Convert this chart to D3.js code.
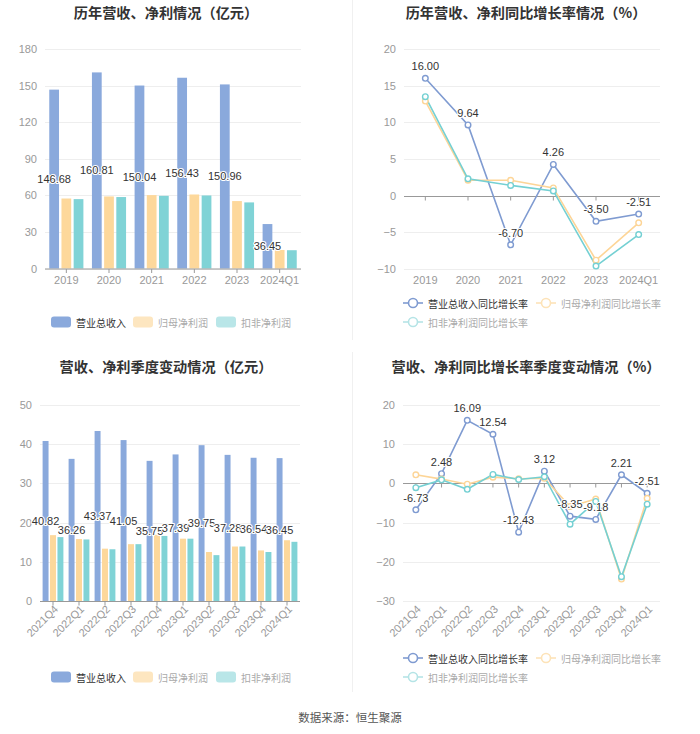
<!DOCTYPE html>
<html><head><meta charset="utf-8">
<script src="https://cdn.jsdelivr.net/npm/d3@7"></script>
<style>
html,body{margin:0;padding:0;background:#fff;}
svg{display:block;font-family:"Liberation Sans","Noto Sans CJK SC",sans-serif;}
</style></head>
<body><svg id="c" width="700" height="734"></svg>
<script>
// ---- data ----
const annualCats = ['2019','2020','2021','2022','2023','2024Q1'];
const annualRevenue = [146.68,160.81,150.04,156.43,150.96,36.45];
const annualNetProfit = [57.4,59.1,60.2,60.7,55.3,15.2];
const annualDeductedProfit = [56.9,58.6,59.6,59.9,54.2,15.0];

const annualRevenueGrowth = [16.00,9.64,-6.70,4.26,-3.50,-2.51];
const annualNetGrowth = [12.9,2.1,2.1,1.05,-8.8,-3.7];
const annualDeductedGrowth = [13.5,2.3,1.4,0.64,-9.6,-5.3];

const quarterCats = ['2021Q4','2022Q1','2022Q2','2022Q3','2022Q4','2023Q1','2023Q2','2023Q3','2023Q4','2024Q1'];
const quarterRevenue = [40.82,36.26,43.37,41.05,35.75,37.39,39.75,37.28,36.54,36.45];
const quarterNetProfit = [16.8,15.8,13.35,14.5,16.9,15.9,12.5,13.9,12.9,15.5];
const quarterDeductedProfit = [16.3,15.7,13.2,14.5,16.6,15.9,11.7,13.9,12.5,15.1];

const quarterRevenueGrowth = [-6.73,2.48,16.09,12.54,-12.43,3.12,-8.35,-9.18,2.21,-2.51];
const quarterNetGrowth = [2.2,1.1,-0.2,1.6,1.2,1.3,-5.9,-4.0,-24.4,-3.8];
const quarterDeductedGrowth = [-1.1,0.9,-1.5,2.3,1.0,1.7,-10.4,-4.6,-23.8,-5.3];

const annualTicks = [0,30,60,90,120,150,180];
const annualGrowthTicks = [-10,-5,0,5,10,15,20];
const quarterTicks = [0,10,20,30,40,50];
const quarterGrowthTicks = [-30,-20,-10,0,10,20];

const barNames = ['营业总收入','归母净利润','扣非净利润'];
const lineNames = ['营业总收入同比增长率','归母净利润同比增长率','扣非净利润同比增长率'];
const titles = ['历年营收、净利情况（亿元）','历年营收、净利同比增长率情况（%）','营收、净利季度变动情况（亿元）','营收、净利同比增长率季度变动情况（%）'];

// ---- styles ----
const barColors = ['#8aa9dc','#fdd89b','#80d3d6'];
const legendBarColors = ['#8aa9dc','#fde6c0','#b9e6e8'];
const lineColors = ['#7f9bd1','#fdd597','#74d0d3'];
const legendLineColors = ['#7f9bd1','#fde3b8','#b5e4e6'];
const legendTextColors = ['#333','#aaa','#aaa'];

const svg = d3.select('#c');

// dividers
svg.append('line').attr('x1',352.5).attr('x2',352.5).attr('y1',0).attr('y2',340).attr('stroke','#f0f0f0');
svg.append('line').attr('x1',352.5).attr('x2',352.5).attr('y1',352).attr('y2',692).attr('stroke','#f0f0f0');

// titles
[[166,12],[526,12],[166,366],[526,366]].forEach((p,i)=>{
  svg.append('text').attr('x',p[0]).attr('y',p[1]).attr('text-anchor','middle').attr('dominant-baseline','central')
    .attr('font-size',14.2).attr('font-weight','bold').attr('fill','#333').attr('font-family','"Noto Sans CJK SC",sans-serif').text(titles[i]);
});

function yAxis(g, y, ticks, x0, x1){
  const ax = d3.axisLeft(y).tickValues(ticks).tickSize(0).tickPadding(8);
  const a = g.append('g').attr('transform',`translate(${x0},0)`).call(ax);
  a.select('.domain').remove();
  a.selectAll('text').attr('font-size',11).attr('fill','#999').attr('font-family','"Liberation Sans",sans-serif');
  g.selectAll('.grid').data(ticks).enter().append('line')
    .attr('x1',x0).attr('x2',x1).attr('y1',d=>Math.round(y(d))+0.5).attr('y2',d=>Math.round(y(d))+0.5)
    .attr('stroke','#eeeeee');
}

function xAxis(g, x, cats, yLine, yLabel, rotate){
  const bw = x.bandwidth();
  g.append('line').attr('x1',x.range()[0]).attr('x2',x.range()[1]).attr('y1',yLine).attr('y2',yLine).attr('stroke','#999');
  g.selectAll('.tk').data(cats).enter().append('line')
    .attr('x1',d=>x(d)+bw/2).attr('x2',d=>x(d)+bw/2).attr('y1',yLine).attr('y2',yLine+4).attr('stroke','#999');
  const lab = g.selectAll('.xl').data(cats).enter().append('text')
    .attr('font-size',11).attr('fill','#999').attr('font-family','"Liberation Sans",sans-serif').text(d=>d);
  if(rotate){
    lab.attr('text-anchor','end').attr('dominant-baseline','central')
      .attr('transform',d=>`translate(${x(d)+bw/2+3},${yLabel}) rotate(-45)`);
  } else {
    lab.attr('text-anchor','middle').attr('dominant-baseline','central').attr('x',d=>x(d)+bw/2).attr('y',yLabel);
  }
}

function valueLabel(g, x, y, txt){
  g.append('text').attr('x',x).attr('y',y).attr('text-anchor','middle').attr('dominant-baseline','central')
    .attr('font-size',11).attr('fill','#333').attr('stroke','#fff').attr('stroke-width',2.2)
    .attr('paint-order','stroke').attr('stroke-linejoin','round').attr('font-family','"Liberation Sans",sans-serif').text(txt);
}

function barChart(cats, series, ticks, x0, x1, yBottom, yTop, maxV, rotate, legendY){
  const g = svg.append('g');
  const x = d3.scaleBand().domain(cats).range([x0,x1]).paddingInner(0).paddingOuter(0);
  const y = d3.scaleLinear().domain([0,maxV]).range([yBottom,yTop]);
  yAxis(g, y, ticks, x0, x1);
  const bw = x.bandwidth();
  const inner = bw*0.8;
  const w = inner/3.5, gap = w*0.25;
  const sub = i => (bw-inner)/2 + i*(w+gap);
  series.forEach((vals,i)=>{
    g.selectAll('.b'+i).data(cats).enter().append('rect')
      .attr('x',(d,k)=>x(d)+sub(i)).attr('width',w)
      .attr('y',(d,k)=>y(vals[k])).attr('height',(d,k)=>yBottom-y(vals[k]))
      .attr('fill',barColors[i]);
  });
  xAxis(g, x, cats, yBottom+0.5, rotate? yBottom+6 : yBottom+11, rotate);
  series[0].forEach((v,k)=>{
    valueLabel(g, x(cats[k])+sub(0)+w/2, (y(v)+yBottom)/2, v.toFixed(2));
  });
  // legend
  const lx = [51,133,216];
  barNames.forEach((n,i)=>{
    g.append('rect').attr('x',lx[i]).attr('y',legendY-5.5).attr('width',20).attr('height',11).attr('rx',3).attr('fill',legendBarColors[i]);
    g.append('text').attr('x',lx[i]+25).attr('y',legendY).attr('dominant-baseline','central')
      .attr('font-size',10).attr('fill',legendTextColors[i]).attr('font-family','"Noto Sans CJK SC",sans-serif').text(n);
  });
}

function lineChart(cats, series, ticks, x0, x1, yBottom, yTop, minV, maxV, rotate, legendY){
  const g = svg.append('g');
  const x = d3.scaleBand().domain(cats).range([x0,x1]);
  const y = d3.scaleLinear().domain([minV,maxV]).range([yBottom,yTop]);
  yAxis(g, y, ticks, x0, x1);
  const bw = x.bandwidth();
  const cx = d => x(d)+bw/2;
  xAxis(g, x, cats, Math.round(y(0))+0.5, rotate? yBottom+6 : yBottom+11, rotate);
  const line = d3.line().x((v,k)=>cx(cats[k])).y(v=>y(v));
  series.forEach((vals,i)=>{
    g.append('path').attr('d',line(vals)).attr('fill','none').attr('stroke',lineColors[i]).attr('stroke-width',1.6);
  });
  series.forEach((vals,i)=>{
    g.selectAll('.p'+i).data(vals).enter().append('circle')
      .attr('cx',(v,k)=>cx(cats[k])).attr('cy',v=>y(v)).attr('r',2.8)
      .attr('fill','#fff').attr('stroke',lineColors[i]).attr('stroke-width',1.4);
  });
  series[0].forEach((v,k)=>{
    valueLabel(g, cx(cats[k]), y(v)-12, v.toFixed(2));
  });
  // legend
  const pos = [[403,legendY],[536,legendY],[403,legendY+19]];
  lineNames.forEach((n,i)=>{
    const [lx,ly] = pos[i];
    g.append('line').attr('x1',lx).attr('x2',lx+20).attr('y1',ly).attr('y2',ly).attr('stroke',legendLineColors[i]).attr('stroke-width',1.6);
    g.append('circle').attr('cx',lx+10).attr('cy',ly).attr('r',4.5).attr('fill','#fff').attr('stroke',legendLineColors[i]).attr('stroke-width',1.6);
    g.append('text').attr('x',lx+25).attr('y',ly).attr('dominant-baseline','central')
      .attr('font-size',10).attr('fill',legendTextColors[i]).attr('font-family','"Noto Sans CJK SC",sans-serif').text(n);
  });
}

barChart(annualCats, [annualRevenue,annualNetProfit,annualDeductedProfit], annualTicks, 45, 301, 268.5, 49, 180, false, 322);
lineChart(annualCats, [annualRevenueGrowth,annualNetGrowth,annualDeductedGrowth], annualGrowthTicks, 404, 660, 269, 49, -10, 20, false, 303);
barChart(quarterCats, [quarterRevenue,quarterNetProfit,quarterDeductedProfit], quarterTicks, 40, 300, 601, 405, 50, true, 677);
lineChart(quarterCats, [quarterRevenueGrowth,quarterNetGrowth,quarterDeductedGrowth], quarterGrowthTicks, 403, 660, 601, 405, -30, 20, true, 658);

svg.append('text').attr('x',350).attr('y',717).attr('text-anchor','middle').attr('dominant-baseline','central')
  .attr('font-size',11.5).attr('fill','#555').attr('font-family','"Noto Sans CJK SC",sans-serif').text('数据来源：恒生聚源');
</script></body></html>
